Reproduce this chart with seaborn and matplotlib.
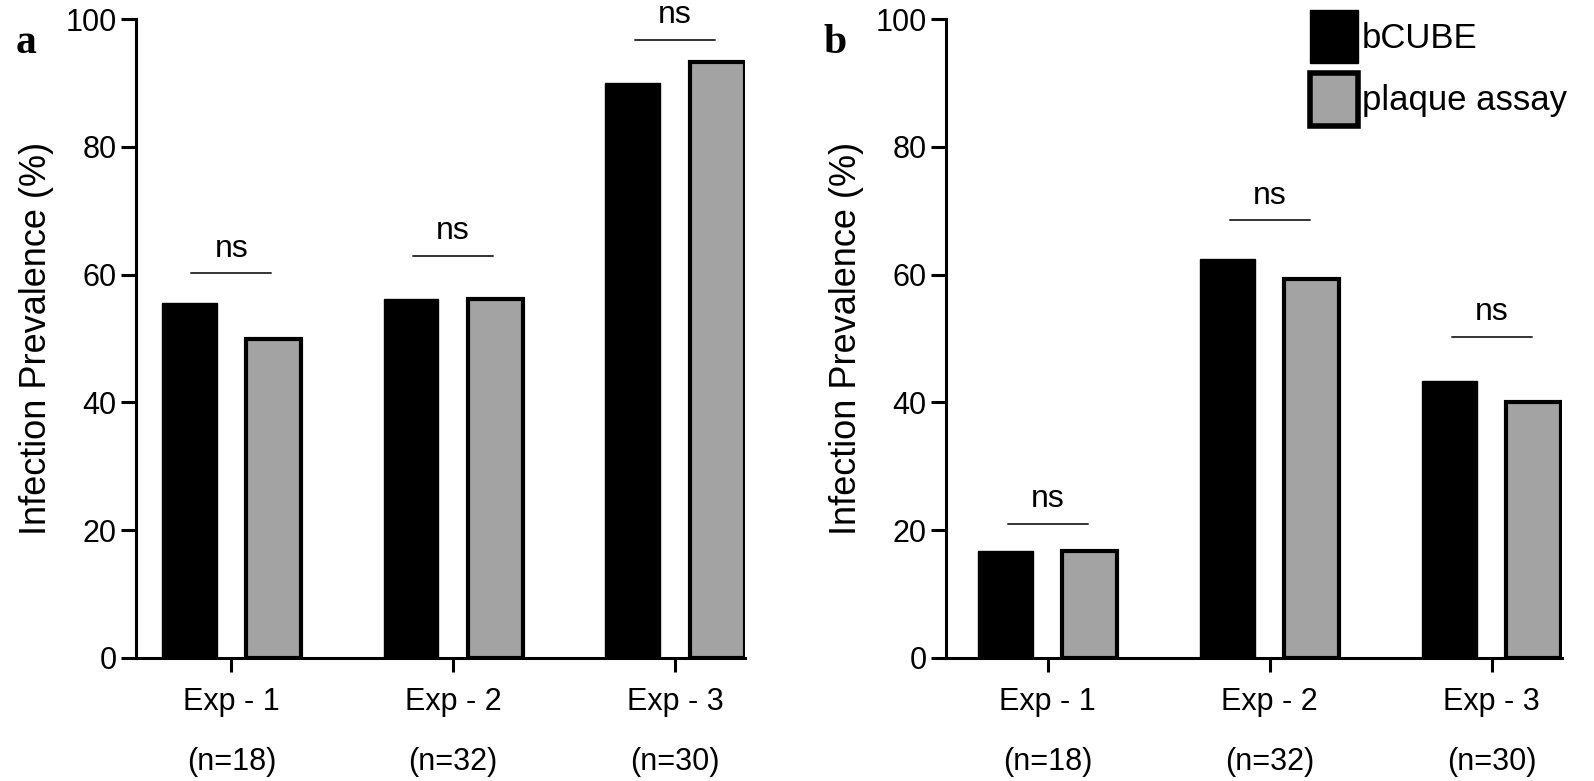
import pandas as pd
import matplotlib
matplotlib.use('Agg')
import matplotlib.pyplot as plt
from matplotlib.patches import Patch
import seaborn as sns

# data
experiments = ['Exp - 1', 'Exp - 2', 'Exp - 3']
sample_sizes = ['(n=18)', '(n=32)', '(n=30)']
methods = ['bCUBE', 'plaque assay']

a_bcube = [55.6, 56.25, 90.0]
a_plaque = [50.0, 56.25, 93.3]
b_bcube = [16.7, 62.5, 43.3]
b_plaque = [16.7, 59.4, 40.0]

# height of the "ns" bracket lines
a_ns = [60.2, 63.0, 96.8]
b_ns = [21.0, 68.5, 50.3]

sns.set_theme(style='ticks')
plt.rcParams['font.family'] = ['Liberation Sans', 'DejaVu Sans']
plt.rcParams['text.color'] = 'black'
plt.rcParams['axes.labelcolor'] = 'black'
plt.rcParams['xtick.color'] = 'black'
plt.rcParams['ytick.color'] = 'black'
plt.rcParams['axes.edgecolor'] = 'black'

colors = {'bCUBE': '#000000', 'plaque assay': '#a3a3a3'}


def make_df(bcube, plaque):
    rows = []
    for exp, v1, v2 in zip(experiments, bcube, plaque):
        rows.append({'exp': exp, 'method': 'bCUBE', 'value': v1})
        rows.append({'exp': exp, 'method': 'plaque assay', 'value': v2})
    return pd.DataFrame(rows)


def draw_panel(ax, bcube, plaque, ns_levels, letter, xlim):
    df = make_df(bcube, plaque)
    sns.barplot(data=df, x='exp', y='value', hue='method', hue_order=methods,
                palette=colors, width=0.76, gap=0.35, saturation=1,
                legend=False, ax=ax)
    for bar in ax.containers[0]:
        bar.set_edgecolor('black')
        bar.set_linewidth(1.0)
    for bar in ax.containers[1]:
        bar.set_edgecolor('black')
        bar.set_linewidth(3.0)

    for i, lvl in enumerate(ns_levels):
        ax.plot([i - 0.18, i + 0.18], [lvl, lvl], color='#333333', lw=1.4)
        ax.text(i, lvl + 2.6, 'ns', ha='center', va='baseline', fontsize=23)

    ax.set_ylim(0, 100)
    ax.set_xlim(*xlim)
    ax.set_yticks([0, 20, 40, 60, 80, 100])
    ax.set_xticks(range(len(experiments)))
    ax.set_xticklabels([f'{e}\n{n}' for e, n in zip(experiments, sample_sizes)],
                       linespacing=2.3, fontsize=22)
    ax.tick_params(axis='y', labelsize=22, width=2.2, length=11, pad=3)
    ax.tick_params(axis='x', width=2.2, length=10, pad=11)
    ax.set_xlabel('')
    ax.set_ylabel('Infection Prevalence (%)', fontsize=26, labelpad=8)
    for s in ['left', 'bottom']:
        ax.spines[s].set_linewidth(2.2)
    sns.despine(ax=ax)
    ax.text(-0.18, 0.962, letter, transform=ax.transAxes, fontsize=30,
            fontweight='bold', family='Liberation Serif', va='center', ha='center')


fig = plt.figure(figsize=(15.94, 7.81), dpi=100)
ax_a = fig.add_axes([0.0853, 0.1575, 0.382, 0.818])
ax_b = fig.add_axes([0.5935, 0.1575, 0.3865, 0.818])

draw_panel(ax_a, a_bcube, a_plaque, a_ns, 'a', (-0.43, 2.315))
draw_panel(ax_b, b_bcube, b_plaque, b_ns, 'b', (-0.457, 2.317))

handles = [Patch(facecolor=colors['bCUBE'], edgecolor='black', linewidth=1),
           Patch(facecolor=colors['plaque assay'], edgecolor='black', linewidth=4)]
ax_b.legend(handles, methods, loc='upper right', bbox_to_anchor=(1.047, 1.052),
            frameon=False, fontsize=25, handlelength=1.38, handleheight=1.95,
            handletextpad=0.1, labelspacing=0.3, borderpad=0.2)

fig.savefig('out.png', dpi=100)
